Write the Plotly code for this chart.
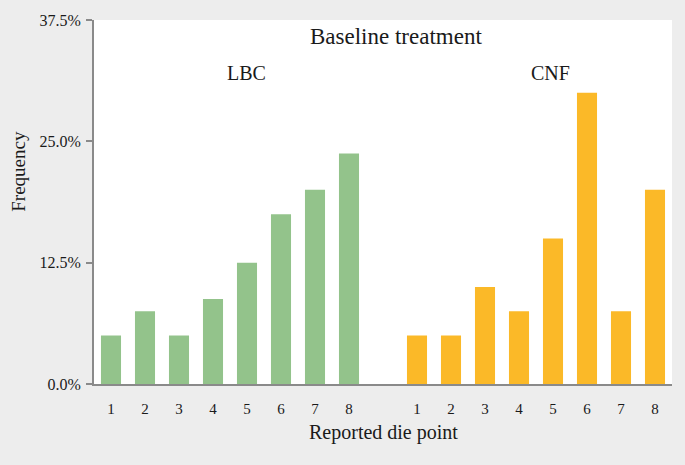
import plotly.graph_objects as go

die_points = ["1", "2", "3", "4", "5", "6", "7", "8"]
lbc_values = [5.0, 7.5, 5.0, 8.75, 12.5, 17.5, 20.0, 23.75]
cnf_values = [5.0, 5.0, 10.0, 7.5, 15.0, 30.0, 7.5, 20.0]
y_ticks = [0, 12.5, 25.0, 37.5]
y_tick_labels = ["0.0%", "12.5%", "25.0%", "37.5%"]

lbc_x = list(range(1, 9))
cnf_x = list(range(10, 18))

W, H = 685, 465
L, R, T, B = 94, 13, 17, 81
pw = W - L - R
ph = H - T - B

font = "Liberation Serif, Times New Roman, serif"
txt = "#1a1a1a"

fig = go.Figure()
fig.add_trace(go.Bar(x=lbc_x, y=lbc_values, width=0.59, marker=dict(color="#93c38b", line=dict(width=0)), name="LBC"))
fig.add_trace(go.Bar(x=cnf_x, y=cnf_values, width=0.59, marker=dict(color="#fbb928", line=dict(width=0)), name="CNF"))

def px_x(p):
    return (p - L) / pw

def px_y(p):
    return 1 - (p - T) / ph

fig.update_layout(
    width=W, height=H,
    margin=dict(l=L, r=R, t=T, b=B),
    paper_bgcolor="#ededed",
    plot_bgcolor="#ffffff",
    showlegend=False,
    font=dict(family=font, color=txt),
    xaxis=dict(
        range=[0.5, 17.5],
        tickvals=lbc_x + cnf_x,
        ticktext=die_points + die_points,
        showgrid=False, zeroline=False,
        showline=True, linecolor="#8a8a8a", linewidth=2,
        ticks="", tickfont=dict(size=15, family=font, color=txt),
        ticklabelstandoff=10,
    ),
    yaxis=dict(
        range=[0, 37.5],
        tickvals=y_ticks, ticktext=y_tick_labels,
        showgrid=False, zeroline=False,
        showline=True, linecolor="#8a8a8a", linewidth=2,
        ticks="outside", ticklen=6, tickwidth=1.5, tickcolor="#8a8a8a",
        tickfont=dict(size=16, family=font, color=txt),
        ticklabelstandoff=2,
    ),
    annotations=[
        dict(text="Baseline treatment", x=px_x(396), y=px_y(34), xref="paper", yref="paper",
             showarrow=False, font=dict(size=23, family=font, color=txt), xanchor="center", yanchor="middle"),
        dict(text="LBC", x=px_x(246), y=px_y(70), xref="paper", yref="paper",
             showarrow=False, font=dict(size=20, family=font, color=txt), xanchor="center", yanchor="middle"),
        dict(text="CNF", x=px_x(550), y=px_y(70), xref="paper", yref="paper",
             showarrow=False, font=dict(size=20, family=font, color=txt), xanchor="center", yanchor="middle"),
        dict(text="Frequency", x=px_x(19), y=px_y(170), xref="paper", yref="paper", textangle=-90,
             showarrow=False, font=dict(size=19, family=font, color=txt), xanchor="center", yanchor="middle"),
        dict(text="Reported die point", x=px_x(383), y=px_y(433), xref="paper", yref="paper",
             showarrow=False, font=dict(size=20, family=font, color=txt), xanchor="center", yanchor="middle"),
    ],
)

fig.write_html("out.html", config={"displayModeBar": False},
               post_script="document.body.style.margin='0';document.body.style.overflow='hidden';")
